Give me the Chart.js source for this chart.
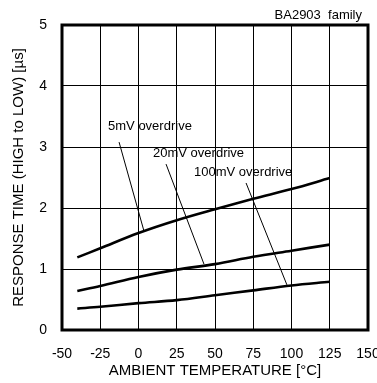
<!DOCTYPE html>
<html>
<head>
<meta charset="utf-8">
<script src="https://cdn.jsdelivr.net/npm/chart.js@4/dist/chart.umd.min.js"></script>
<style>
  body { margin: 0; background: #fff; }
  #wrap { width: 377px; height: 383px; position: relative; }
</style>
</head>
<body>
<div id="wrap"><canvas id="chart" width="377" height="383"></canvas></div>
<script>
// temperature points (°C)
var temps = [-40, -25, 0, 25, 50, 75, 100, 125];
// response time (us) per overdrive
var od5mV   = [1.19, 1.34, 1.59, 1.80, 1.98, 2.15, 2.31, 2.49];
var od20mV  = [0.64, 0.72, 0.87, 0.99, 1.08, 1.20, 1.30, 1.40];
var od100mV = [0.35, 0.38, 0.44, 0.49, 0.57, 0.65, 0.73, 0.79];

// annotation labels and leader lines (data coords)
var labelText = ["5mV overdrive", "20mV overdrive", "100mV overdrive"];
var labelAt   = [[-19.9, 3.33], [9.5, 2.90], [36.3, 2.59]];
var leaderFrom = [[-12.7, 3.08], [18, 2.72], [70.3, 2.41]];
var leaderTo   = [[3.6, 1.62], [42.8, 1.08], [97, 0.74]];

var xTicks = [-50, -25, 0, 25, 50, 75, 100, 125, 150];
var yTicks = [0, 1, 2, 3, 4, 5];

var FONT = '"Liberation Sans", Arial, sans-serif';

function pts(ys) {
  return temps.map(function (t, i) { return { x: t, y: ys[i] }; });
}

var datasets = [od5mV, od20mV, od100mV].map(function (s) {
  return {
    data: pts(s),
    borderColor: '#000',
    borderWidth: 2.6,
    pointRadius: 0,
    tension: 0.35,
    fill: false
  };
});
for (var i = 0; i < leaderFrom.length; i++) {
  datasets.push({
    data: [{ x: leaderFrom[i][0], y: leaderFrom[i][1] }, { x: leaderTo[i][0], y: leaderTo[i][1] }],
    borderColor: '#000',
    borderWidth: 1,
    pointRadius: 0,
    fill: false
  });
}

var extras = {
  id: 'extras',
  afterDraw: function (chart) {
    var c = chart.ctx, a = chart.chartArea;
    var xs = chart.scales.x, ys = chart.scales.y;
    c.save();
    c.strokeStyle = '#000';
    c.lineWidth = 3;
    c.strokeRect(a.left, a.top, a.right - a.left, a.bottom - a.top);
    c.fillStyle = '#000';
    c.font = '13px ' + FONT;
    c.textBaseline = 'middle';
    c.textAlign = 'left';
    for (var i = 0; i < labelText.length; i++) {
      c.fillText(labelText[i], xs.getPixelForValue(labelAt[i][0]), ys.getPixelForValue(labelAt[i][1]));
    }
    c.textAlign = 'right';
    c.fillText('BA2903  family', 362, 15);
    c.restore();
  }
};

new Chart(document.getElementById('chart'), {
  type: 'line',
  data: { datasets: datasets },
  options: {
    responsive: false,
    animation: false,
    layout: { padding: { top: 25, right: 0, left: 0, bottom: 0 } },
    plugins: { legend: { display: false }, tooltip: { enabled: false } },
    scales: {
      x: {
        type: 'linear',
        min: -50, max: 150,
        afterBuildTicks: function (s) { s.ticks = xTicks.map(function (v) { return { value: v }; }); },
        afterFit: function (s) { s.height = 53; s.paddingRight = 9; s.paddingLeft = 0; },
        grid: { color: '#000', lineWidth: 1, drawTicks: false },
        border: { display: false },
        ticks: { color: '#000', padding: 16, maxRotation: 0, font: { family: FONT, size: 14 } },
        title: { display: true, text: 'AMBIENT TEMPERATURE [°C]', color: '#000', padding: { top: 0, bottom: 3 },
                 font: { family: FONT, size: 15 } }
      },
      y: {
        min: 0, max: 5,
        afterBuildTicks: function (s) { s.ticks = yTicks.map(function (v) { return { value: v }; }); },
        afterFit: function (s) { s.width = 62; },
        grid: { color: '#000', lineWidth: 1, drawTicks: false },
        border: { display: false },
        ticks: { color: '#000', padding: 15, font: { family: FONT, size: 14 } },
        title: { display: true, text: 'RESPONSE TIME (HIGH to LOW) [µs]', color: '#000', padding: { top: 10, bottom: 0 },
                 font: { family: FONT, size: 15 } }
      }
    }
  },
  plugins: [extras]
});
</script>
</body>
</html>
